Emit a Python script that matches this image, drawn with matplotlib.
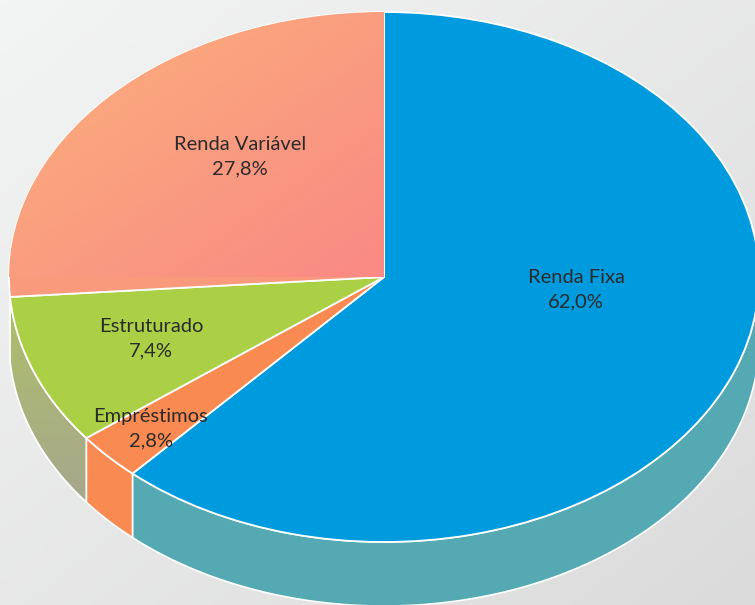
import numpy as np
import matplotlib
matplotlib.use("Agg")
import matplotlib.pyplot as plt
from matplotlib.colors import LinearSegmentedColormap
from matplotlib.patches import Polygon

categories = ["Renda Fixa", "Empréstimos", "Estruturado", "Renda Variável"]
printed_values = ["62,0%", "2,8%", "7,4%", "27,8%"]
# Sweep of each slice as drawn in the picture, in percent of the circle
drawn_shares = [61.7, 2.9, 9.2, 26.2]
top_colors = ["#009ADE", "#F98B52", "#ABD046", "#FA9A7C"]
wall_colors = ["#54A9B2", "#F98B52", "#ABB383", None]

W, H = 755, 605
cx, cy, rx, ry, depth = 384, 277, 375, 265, 64

fig = plt.figure(figsize=(W / 100, H / 100), dpi=100)
ax = fig.add_axes([0, 0, 1, 1])
limits = (-cx / rx, (W - cx) / rx), (-(H - cy) / ry, cy / ry)

# background gradient
yy, xx = np.mgrid[0:1:200j, 0:1:200j]
bg = LinearSegmentedColormap.from_list("bg", ["#F3F4F4", "#DBDBDC"])
ax.imshow(0.5 * (xx + yy), cmap=bg, vmin=0, vmax=1, origin="upper",
          extent=(*limits[0], *limits[1]), aspect="auto", zorder=0)

wedges, _ = ax.pie(drawn_shares, colors=top_colors, startangle=90, counterclock=False,
                   radius=1, center=(0, 0),
                   wedgeprops=dict(edgecolor="white", linewidth=1.3, zorder=3))
ax.set_aspect("auto")
ax.axis("off")

# side walls
d = depth / ry
green_wall = None
for w, col in zip(wedges, wall_colors):
    if col is None:
        continue
    a0n, a1n = w.theta1 % 360, w.theta2 % 360
    if a1n <= a0n:
        a1n += 360
    lo, hi = max(a0n, 180), min(a1n, 360)
    t = np.radians(np.linspace(lo, hi, 200))
    x, y = np.cos(t), np.sin(t)
    pts = np.r_[np.c_[x, y], np.c_[x[::-1], y[::-1] - d]]
    poly = Polygon(pts, closed=True, facecolor=col, edgecolor="white", linewidth=1.2, zorder=1)
    ax.add_patch(poly)
    if col == wall_colors[2]:
        green_wall = poly

# gradient on the Estruturado wall
wall_grad = LinearSegmentedColormap.from_list("gw", ["#AEC266", "#A7A78E"])
gw = ax.imshow(yy, cmap=wall_grad, vmin=0, vmax=1, origin="upper",
               extent=(-1.0, -0.78, -0.86, 0.0), aspect="auto", zorder=1.2)
gw.set_clip_path(green_wall)
ax.add_patch(Polygon(green_wall.get_xy(), closed=True, fill=False, edgecolor="white",
                     linewidth=1.2, zorder=1.3))

# Renda Variavel gradient
grad = LinearSegmentedColormap.from_list("rv", ["#FBAE7C", "#F98B84"])
im = ax.imshow(0.5 * (xx + yy), cmap=grad, vmin=0.1, vmax=0.95, origin="upper",
               extent=(-1, 0, 0, 1), aspect="auto", zorder=3.5)
im.set_clip_path(wedges[3])
ax.set_xlim(*limits[0])
ax.set_ylim(*limits[1])

label_pix = [(576, 290), (151, 429), (151, 339), (240, 157)]
for name, val, (px, py) in zip(categories, printed_values, label_pix):
    ax.text((px - cx) / rx, (cy - py) / ry, f"{name}\n{val}", ha="center", va="center",
            fontsize=14.5, family="Lato", color="#2B2B2B",
            linespacing=1.55, zorder=5)

fig.savefig("out.png", dpi=100)
